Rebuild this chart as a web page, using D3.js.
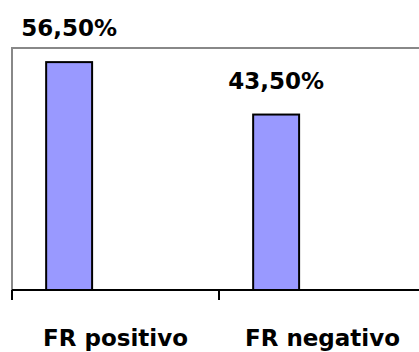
<!DOCTYPE html>
<html>
<head>
<meta charset="utf-8">
<script src="https://cdn.jsdelivr.net/npm/d3@7"></script>
<style>
  body { margin: 0; background: #fff; }
  svg { display: block; }
</style>
</head>
<body>
<div id="chart"></div>
<script>
// chart data
const categories = ['FR positivo', 'FR negativo'];
const values = [56.5, 43.5];
const labels = ['56,50%', '43,50%'];

const width = 419;
const height = 352;
const plot = { left: 12, top: 48, bottom: 290, bandWidth: 207 };

const x = d3.scaleBand()
  .domain(categories)
  .range([plot.left, plot.left + plot.bandWidth * categories.length]);

const y = d3.scaleLinear()
  .domain([0, 60])
  .range([plot.bottom, plot.top]);

// bar sits in the left part of each band (excel style)
const barOffset = x.bandwidth() * 0.165;
const barWidth = x.bandwidth() * 0.222;

const svg = d3.select('#chart').append('svg')
  .attr('width', width)
  .attr('height', height)
  .attr('font-family', "'DejaVu Sans', sans-serif")
  .attr('font-weight', 'bold');

// plot frame (gray top + left)
svg.append('path')
  .attr('d', `M${plot.left},${plot.bottom} V${plot.top} H${width + 5}`)
  .attr('fill', 'none')
  .attr('stroke', '#888')
  .attr('stroke-width', 2);

// bars
svg.append('g')
  .selectAll('rect')
  .data(values)
  .join('rect')
    .attr('x', (d, i) => x(categories[i]) + barOffset)
    .attr('y', d => y(d))
    .attr('width', barWidth)
    .attr('height', d => y(0) - y(d))
    .attr('fill', '#9999ff')
    .attr('stroke', '#000')
    .attr('stroke-width', 2);

// x axis with ticks at band edges
const axis = svg.append('g');
axis.append('line')
  .attr('x1', plot.left).attr('x2', width + 5)
  .attr('y1', plot.bottom).attr('y2', plot.bottom)
  .attr('stroke', '#000').attr('stroke-width', 2);
axis.selectAll('.tick')
  .data(categories)
  .join('line')
    .attr('class', 'tick')
    .attr('x1', d => x(d)).attr('x2', d => x(d))
    .attr('y1', plot.bottom).attr('y2', plot.bottom + 10)
    .attr('stroke', '#000').attr('stroke-width', 2);

// category labels
svg.append('g')
  .selectAll('text')
  .data(categories)
  .join('text')
    .attr('x', d => x(d) + x.bandwidth() / 2)
    .attr('y', 346)
    .attr('text-anchor', 'middle')
    .attr('font-size', 23)
    .text(d => d);

// value labels
svg.append('g')
  .selectAll('text')
  .data(values)
  .join('text')
    .attr('x', (d, i) => x(categories[i]) + barOffset + barWidth / 2)
    .attr('y', d => y(d) - 26)
    .attr('text-anchor', 'middle')
    .attr('font-size', 23)
    .text((d, i) => labels[i]);
</script>
</body>
</html>
